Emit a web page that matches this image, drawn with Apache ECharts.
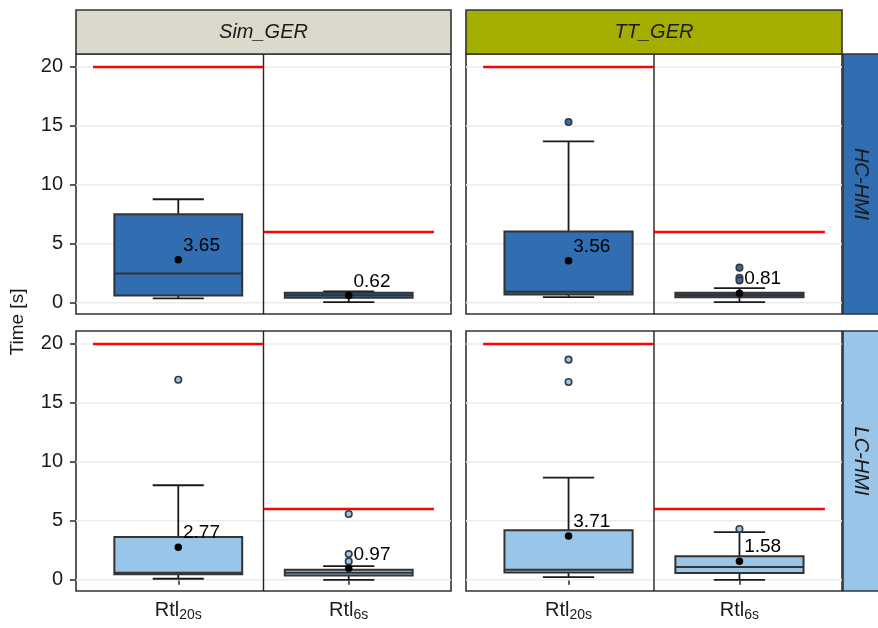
<!DOCTYPE html>
<html>
<head>
<meta charset="utf-8">
<script src="https://cdn.jsdelivr.net/npm/echarts@6/dist/echarts.min.js"></script>
<style>html,body{margin:0;padding:0;background:#fff}#c{width:878px;height:628px}</style>
</head>
<body>
<div id="c"></div>
<script>
// ---- data ----
const categories = ['Rtl20s', 'Rtl6s'];
const catPos = [1, 2];
const yTicks = [0, 5, 10, 15, 20];
const thresholds = [20, 6];
const colPanels = ['Sim_GER', 'TT_GER'];
const rowPanels = ['HC-HMI', 'LC-HMI'];

// [min, Q1, median, Q3, max] per category
const simHC_box = [[0.37, 0.62, 2.49, 7.51, 8.78], [0.05, 0.43, 0.65, 0.85, 0.96]];
const ttHC_box  = [[0.48, 0.71, 0.94, 6.04, 13.69], [0.05, 0.48, 0.66, 0.85, 1.24]];
const simLC_box = [[0.09, 0.46, 0.60, 3.63, 8.02], [0.00, 0.37, 0.60, 0.85, 1.16]];
const ttLC_box  = [[0.23, 0.62, 0.85, 4.20, 8.67], [0.00, 0.57, 1.08, 1.99, 4.05]];

const simHC_out = [[], []];
const ttHC_out  = [[15.33], [2.98, 2.13, 1.90]];
const simLC_out = [[16.97], [5.58, 2.18, 1.56]];
const ttLC_out  = [[18.67, 16.77], [4.31]];

const simHC_mean = [3.65, 0.62];
const ttHC_mean  = [3.56, 0.81];
const simLC_mean = [2.77, 0.97];
const ttLC_mean  = [3.71, 1.58];

// ---- styling / layout ----
const hcColor = '#306DB1';
const lcColor = '#99C5E9';
const stripColColors = ['#DAD9CB', '#A3AE00'];
const stripRowColors = [hcColor, lcColor];
const FONT = '"Liberation Sans", Arial, sans-serif';
const yMin = -0.95, yMax = 21.1, xMin = 0.4, xMax = 2.6;

const gridRects = [
  {left: 76, top: 54, width: 375, height: 260},
  {left: 466, top: 54, width: 376, height: 260},
  {left: 76, top: 331, width: 375, height: 260},
  {left: 466, top: 331, width: 376, height: 260}
];
const panels = [
  {box: simHC_box, out: simHC_out, mean: simHC_mean, color: hcColor},
  {box: ttHC_box, out: ttHC_out, mean: ttHC_mean, color: hcColor},
  {box: simLC_box, out: simLC_out, mean: simLC_mean, color: lcColor},
  {box: ttLC_box, out: ttLC_out, mean: ttLC_mean, color: lcColor}
];

const grid = [], xAxis = [], yAxis = [], series = [];
panels.forEach((p, i) => {
  const g = gridRects[i];
  const isLeft = i % 2 === 0, isBottom = i >= 2;
  grid.push(Object.assign({show: true, borderColor: '#333', borderWidth: 1.6, backgroundColor: '#fff', containLabel: false}, g));
  xAxis.push({
    gridIndex: i, type: 'value', min: xMin, max: xMax,
    axisLine: {show: false},
    splitLine: {show: false},
    axisTick: {show: isBottom, customValues: catPos, length: 5, lineStyle: {color: '#333', width: 1.6}},
    axisLabel: {
      show: isBottom, customValues: catPos, margin: 9,
      formatter: v => {
        const c = categories[catPos.indexOf(v)] || '';
        return '{m|Rtl}{s|' + c.slice(3) + '}';
      },
      rich: {
        m: {fontSize: 20, fontFamily: FONT, color: '#1a1a1a', verticalAlign: 'top', lineHeight: 22},
        s: {fontSize: 14, fontFamily: FONT, color: '#1a1a1a', verticalAlign: 'bottom', lineHeight: 16, padding: [10, 0, 0, 0]}
      }
    }
  });
  yAxis.push({
    gridIndex: i, type: 'value', min: yMin, max: yMax,
    axisLine: {show: false},
    splitLine: {show: false},
    axisTick: {show: isLeft, customValues: yTicks, length: 6, lineStyle: {color: '#333', width: 1.6}},
    axisLabel: {show: isLeft, customValues: yTicks, margin: 13, fontSize: 20, fontFamily: FONT, color: '#1a1a1a'}
  });

  // grid lines
  series.push({
    type: 'custom', xAxisIndex: i, yAxisIndex: i, z: 1, silent: true,
    data: yTicks.map(v => [v]),
    renderItem: (params, api) => {
      const y = api.value(0);
      const a = api.coord([xMin, y]), b = api.coord([xMax, y]);
      return {type: 'line', shape: {x1: a[0], y1: a[1], x2: b[0], y2: b[1]}, style: {stroke: '#EBEBEB', lineWidth: 1.5}};
    }
  });
  // separator line between categories
  series.push({
    type: 'custom', xAxisIndex: i, yAxisIndex: i, z: 2, silent: true,
    data: [[1.5]],
    renderItem: (params, api) => {
      const x = api.value(0);
      const a = api.coord([x, yMin]), b = api.coord([x, yMax]);
      return {type: 'line', shape: {x1: a[0], y1: a[1], x2: b[0], y2: b[1]}, style: {stroke: '#222', lineWidth: 1.4}};
    }
  });
  // threshold lines
  series.push({
    type: 'custom', xAxisIndex: i, yAxisIndex: i, z: 3, silent: true,
    data: thresholds.map((t, k) => [catPos[k] - 0.5, catPos[k] + 0.5, t]),
    renderItem: (params, api) => {
      const a = api.coord([api.value(0), api.value(2)]), b = api.coord([api.value(1), api.value(2)]);
      return {type: 'line', shape: {x1: a[0], y1: a[1], x2: b[0], y2: b[1]}, style: {stroke: '#FF0000', lineWidth: 2.6}};
    }
  });
  // boxplots
  series.push({
    type: 'custom', xAxisIndex: i, yAxisIndex: i, z: 4, silent: true,
    data: p.box.map((b, k) => [catPos[k]].concat(b)),
    encode: {x: 0, y: [1, 2, 3, 4, 5]},
    renderItem: (params, api) => {
      const x = api.value(0);
      const mn = api.coord([x, api.value(1)]), q1 = api.coord([x, api.value(2)]),
            md = api.coord([x, api.value(3)]), q3 = api.coord([x, api.value(4)]),
            mx = api.coord([x, api.value(5)]);
      const bw = api.size([0.75, 0])[0], cw = api.size([0.3, 0])[0];
      const cx = mn[0];
      const ws = {stroke: '#1a1a1a', lineWidth: 1.8};
      return {type: 'group', children: [
        {type: 'line', shape: {x1: cx, y1: mx[1], x2: cx, y2: q3[1]}, style: ws},
        {type: 'line', shape: {x1: cx, y1: mn[1], x2: cx, y2: q1[1]}, style: ws},
        {type: 'line', shape: {x1: cx - cw / 2, y1: mx[1], x2: cx + cw / 2, y2: mx[1]}, style: ws},
        {type: 'line', shape: {x1: cx - cw / 2, y1: mn[1], x2: cx + cw / 2, y2: mn[1]}, style: ws},
        {type: 'rect', shape: {x: cx - bw / 2, y: q3[1], width: bw, height: q1[1] - q3[1]},
          style: {fill: p.color, stroke: '#333', lineWidth: 2}},
        {type: 'line', shape: {x1: cx - bw / 2, y1: md[1], x2: cx + bw / 2, y2: md[1]}, style: {stroke: '#333', lineWidth: 2}}
      ]};
    }
  });
  // outliers
  const outData = [];
  p.out.forEach((arr, k) => arr.forEach(v => outData.push([catPos[k], v])));
  series.push({
    type: 'scatter', xAxisIndex: i, yAxisIndex: i, z: 5, silent: true,
    symbol: 'circle', symbolSize: 6.5, data: outData,
    itemStyle: {color: p.color, borderColor: '#3a3a3a', borderWidth: 1.6, opacity: 1}
  });
  // means with labels
  series.push({
    type: 'scatter', xAxisIndex: i, yAxisIndex: i, z: 6, silent: true,
    symbol: 'circle', symbolSize: 7.5,
    data: p.mean.map((m, k) => [catPos[k], m]),
    itemStyle: {color: '#000', opacity: 1},
    label: {
      show: true, position: 'right', distance: 1, offset: [0, -14],
      formatter: d => d.value[1].toFixed(2),
      fontSize: 19, fontFamily: FONT, color: '#000'
    }
  });
});

const graphic = [];
colPanels.forEach((name, c) => {
  const g = gridRects[c];
  graphic.push({type: 'rect', z: 10, shape: {x: g.left, y: 10, width: g.width, height: 44},
    style: {fill: stripColColors[c], stroke: '#333', lineWidth: 1.6}});
  graphic.push({type: 'text', z: 11, x: g.left + g.width / 2, y: 32,
    style: {text: name, fontSize: 20, fontStyle: 'italic', fontFamily: FONT, fill: '#1a1a1a', align: 'center', verticalAlign: 'middle'}});
});
rowPanels.forEach((name, r) => {
  const g = gridRects[r * 2 + 1];
  graphic.push({type: 'rect', z: 10, shape: {x: 843, y: g.top, width: 45, height: g.height},
    style: {fill: stripRowColors[r], stroke: '#333', lineWidth: 1.6}});
  graphic.push({type: 'text', z: 11, x: 861, y: g.top + g.height / 2, rotation: -Math.PI / 2,
    style: {text: name, fontSize: 20, fontStyle: 'italic', fontFamily: FONT, fill: '#1a1a1a', align: 'center', verticalAlign: 'middle'}});
});
graphic.push({type: 'text', z: 11, x: 18, y: 322, rotation: Math.PI / 2,
  style: {text: 'Time [s]', fontSize: 19, fontFamily: FONT, fill: '#1a1a1a', align: 'center', verticalAlign: 'middle'}});

const chart = echarts.init(document.getElementById('c'), null, {renderer: 'canvas'});
chart.setOption({animation: false, backgroundColor: '#fff', grid, xAxis, yAxis, series, graphic});
</script>
</body>
</html>
